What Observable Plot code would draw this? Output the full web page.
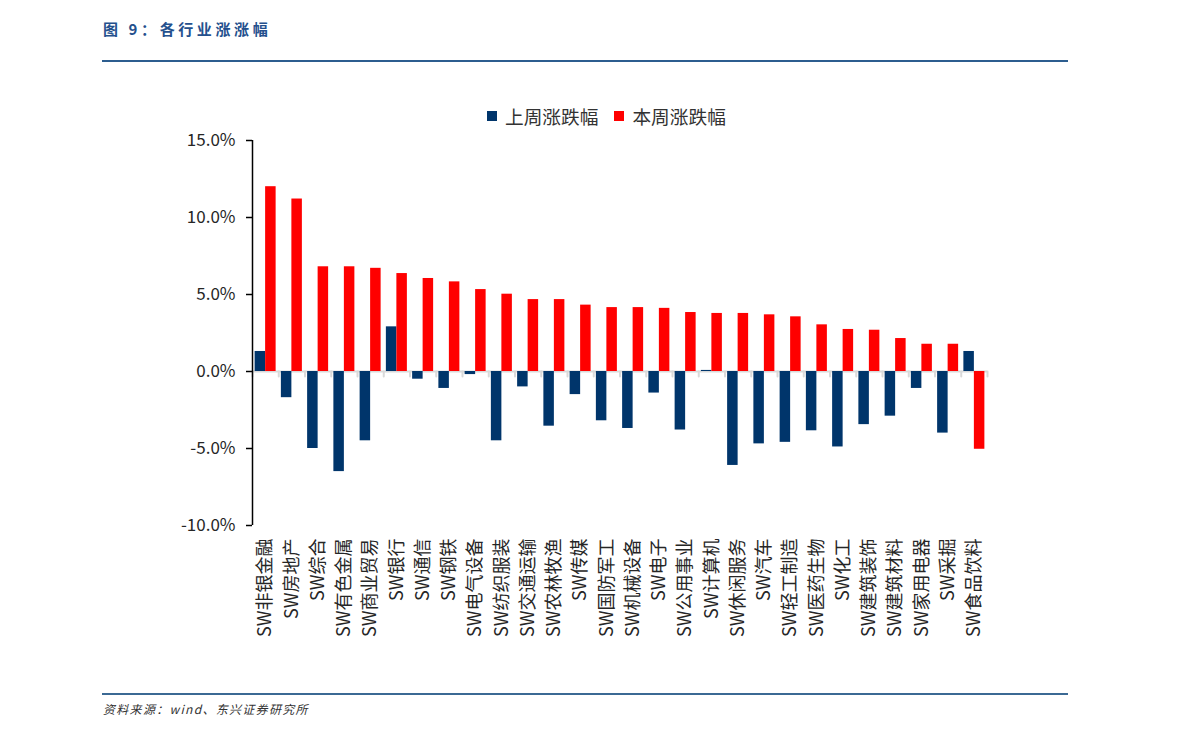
<!DOCTYPE html>
<html>
<head>
<meta charset="utf-8">
<script src="https://cdn.jsdelivr.net/npm/d3@7"></script>
<script src="https://cdn.jsdelivr.net/npm/@observablehq/plot@0.6"></script>
<style>
  html, body { margin: 0; padding: 0; background: #fff; }
  #wrap { position: relative; width: 1191px; height: 738px; overflow: hidden; font-family: "Noto Sans CJK SC", "Noto Sans", sans-serif; }
  #chart { position: absolute; left: 0; top: 0; }
  #chart svg { max-width: none; }
  .title { position: absolute; left: 103px; top: 18px; font-size: 15px; line-height: 22px; font-weight: 700; color: #24508d; letter-spacing: 3.6px; white-space: nowrap; }
  .hline { position: absolute; left: 102px; width: 966px; height: 2px; }
  .legend { position: absolute; left: 487px; top: 104px; display: flex; align-items: center; font-size: 18.7px; line-height: 24px; color: #333; white-space: nowrap; }
  .legend .sw { width: 10px; height: 10px; display: inline-block; margin-right: 8px; }
  .legend .item { display: flex; align-items: center; margin-right: 16px; }
  .footer { position: absolute; left: 103px; top: 700px; font-size: 12px; line-height: 18px; font-style: italic; color: #333; letter-spacing: 1.3px; white-space: nowrap; }
</style>
</head>
<body>
<div id="wrap">
  <div id="chart"></div>
  <div class="title">图 9：各行业涨涨幅</div>
  <div class="hline" style="top:60px;background:#2c5d8f;"></div>
  <div class="legend" id="legend"></div>
  <div class="hline" style="top:693px;background:#3b6994;"></div>
  <div class="footer">资料来源：wind、东兴证券研究所</div>
</div>
<script>
const categories = ["SW非银金融","SW房地产","SW综合","SW有色金属","SW商业贸易","SW银行","SW通信","SW钢铁","SW电气设备","SW纺织服装","SW交通运输","SW农林牧渔","SW传媒","SW国防军工","SW机械设备","SW电子","SW公用事业","SW计算机","SW休闲服务","SW汽车","SW轻工制造","SW医药生物","SW化工","SW建筑装饰","SW建筑材料","SW家用电器","SW采掘","SW食品饮料"];
const lastWeek = [1.3,-1.7,-5.0,-6.5,-4.5,2.9,-0.5,-1.1,-0.2,-4.5,-1.0,-3.55,-1.5,-3.2,-3.7,-1.4,-3.8,0.07,-6.1,-4.7,-4.6,-3.85,-4.9,-3.45,-2.9,-1.1,-4.0,1.3];
const thisWeek = [12.0,11.2,6.8,6.8,6.7,6.36,6.04,5.82,5.32,5.02,4.67,4.67,4.31,4.15,4.15,4.1,3.83,3.77,3.77,3.68,3.55,3.03,2.73,2.68,2.14,1.77,1.77,-5.05];
const yTicks = [-10,-5,0,5,10,15];
const seriesNames = ["上周涨跌幅","本周涨跌幅"];
const seriesColors = ["#00356b","#ff0000"];

const lastData = categories.map((c,i)=>({cat:c, v:lastWeek[i]}));
const thisData = categories.map((c,i)=>({cat:c, v:thisWeek[i]}));

const W = 1191, H = 738, mL = 252, mR = 204, mT = 140, mB = 213;
const step = (W - mL - mR) / categories.length;
const bw = step * 0.8;

const chart = Plot.plot({
  width: W, height: H,
  marginLeft: mL, marginRight: mR, marginTop: mT, marginBottom: mB,
  style: {fontFamily: '"Noto Sans CJK SC", "Noto Sans", sans-serif', color: "#333", background: "transparent"},
  x: {domain: categories, paddingInner: 0.2, paddingOuter: 0.1, align: 0.5, round: false},
  y: {domain: [-10, 15]},
  marks: [
    Plot.ruleY([0], {stroke: "#d9d9d9", strokeWidth: 2}),
    Plot.vector(categories, {x: d=>d, y: d=>0, length: 5, rotate: 180, anchor: "start", r: 0, dx: -step/2, stroke: "#d9d9d9", strokeWidth: 2}),
    Plot.vector([categories[categories.length-1]], {x: d=>d, y: d=>0, length: 5, rotate: 180, anchor: "start", r: 0, dx: step/2, stroke: "#d9d9d9", strokeWidth: 2}),
    Plot.barY(lastData, {x: "cat", y: "v", fill: seriesColors[0], insetRight: bw/2}),
    Plot.barY(thisData, {x: "cat", y: "v", fill: seriesColors[1], insetLeft: bw/2}),
    Plot.ruleX([categories[0]], {x: d=>d, y1: d=>-10, y2: d=>15, dx: -step/2, stroke: "#000", strokeWidth: 1.5}),
    Plot.axisY({ticks: yTicks, tickFormat: d => d.toFixed(1) + "%", tickSize: 6, tickPadding: 11, fontSize: 17, stroke: "#000", strokeWidth: 1.5, label: null, fill: "#262626"}),
    Plot.axisX({tickRotate: -90, tickSize: 0, tickPadding: 13, fontSize: 18, label: null, fill: "#262626"})
  ]
});
document.getElementById("chart").appendChild(chart);

const leg = document.getElementById("legend");
seriesNames.forEach((n,i)=>{
  const it = document.createElement("div");
  it.className = "item";
  it.innerHTML = `<span class="sw" style="background:${seriesColors[i]}"></span><span>${n}</span>`;
  leg.appendChild(it);
});
</script>
</body>
</html>
